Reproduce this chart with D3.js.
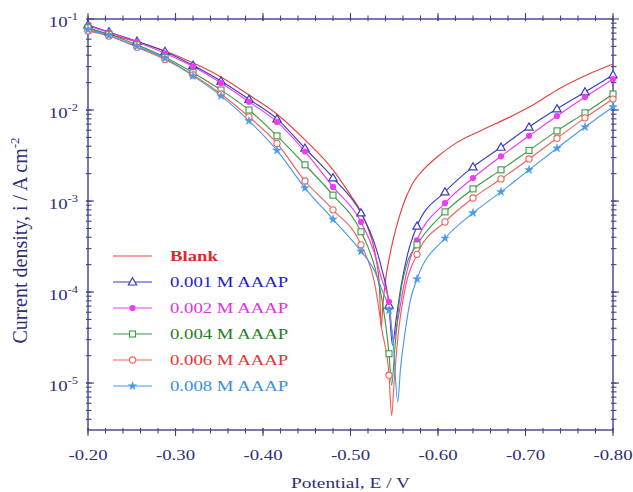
<!DOCTYPE html>
<html>
<head>
<meta charset="utf-8">
<script src="https://cdn.jsdelivr.net/npm/d3@7"></script>
<style>
  html, body { margin: 0; padding: 0; background: #fff; }
  svg text { font-family: "Liberation Serif", "Times New Roman", serif; }
</style>
</head>
<body>
<svg id="chart" width="633" height="492"></svg>
<script>
// potentials (V) where the markers sit
const markerPotentials = [-0.200, -0.224, -0.256, -0.288, -0.320, -0.352, -0.384, -0.416, -0.448, -0.480, -0.512,
  -0.544, -0.576, -0.608, -0.640, -0.672, -0.704, -0.736, -0.768, -0.800];

// [E (V), i (A cm-2)]
const blank = [
  [-0.200, 0.078], [-0.224, 0.068], [-0.256, 0.056], [-0.288, 0.0445], [-0.320, 0.0329], [-0.352, 0.0231],
  [-0.384, 0.0146], [-0.416, 0.0090], [-0.448, 0.0047], [-0.480, 0.0022], [-0.500, 0.00116], [-0.512, 7.6e-4],
  [-0.520, 5.0e-4], [-0.526, 3.3e-4], [-0.530, 2.1e-4], [-0.533, 1.19e-4], [-0.535, 4.1e-5], [-0.537, 7.2e-5],
  [-0.540, 1.35e-4], [-0.545, 2.55e-4], [-0.552, 5.0e-4], [-0.560, 9.0e-4], [-0.570, 1.5e-3], [-0.585, 2.3e-3],
  [-0.600, 3.1e-3], [-0.620, 4.3e-3], [-0.650, 6.0e-3], [-0.680, 8.2e-3], [-0.710, 0.0116], [-0.740, 0.0175],
  [-0.770, 0.0243], [-0.800, 0.032]
];

const aaap001 = [
  [-0.200, 0.086], [-0.224, 0.072], [-0.256, 0.057], [-0.288, 0.044], [-0.320, 0.031], [-0.352, 0.0208],
  [-0.384, 0.0131], [-0.416, 0.0080], [-0.448, 0.0038], [-0.480, 0.0018], [-0.512, 7.4e-4], [-0.528, 3.3e-4],
  [-0.536, 1.75e-4], [-0.544, 7.2e-5], [-0.548, 2.6e-5], [-0.552, 4.9e-5], [-0.558, 1.19e-4], [-0.565, 2.55e-4],
  [-0.576, 5.3e-4], [-0.608, 1.26e-3], [-0.640, 2.37e-3], [-0.672, 3.9e-3], [-0.704, 6.5e-3], [-0.736, 0.0103],
  [-0.768, 0.0158], [-0.800, 0.0243]
];

const aaap002 = [
  [-0.200, 0.084], [-0.224, 0.071], [-0.256, 0.056], [-0.288, 0.042], [-0.320, 0.030], [-0.352, 0.0198],
  [-0.384, 0.0123], [-0.416, 0.0074], [-0.448, 0.0035], [-0.480, 0.00143], [-0.512, 5.9e-4], [-0.528, 2.55e-4],
  [-0.536, 1.35e-4], [-0.544, 7.8e-5], [-0.549, 3.0e-5], [-0.554, 4.9e-5], [-0.560, 1.05e-4], [-0.567, 2.1e-4],
  [-0.576, 3.7e-4], [-0.608, 9.5e-4], [-0.640, 1.79e-3], [-0.672, 3.1e-3], [-0.704, 5.2e-3], [-0.736, 8.6e-3],
  [-0.768, 0.0139], [-0.800, 0.0219]
];

const aaap004 = [
  [-0.200, 0.080], [-0.224, 0.068], [-0.256, 0.052], [-0.288, 0.038], [-0.320, 0.0257], [-0.352, 0.0166],
  [-0.384, 0.0100], [-0.416, 0.0052], [-0.448, 0.0025], [-0.480, 0.00116], [-0.512, 4.6e-4], [-0.528, 1.84e-4],
  [-0.536, 8.2e-5], [-0.544, 2.1e-5], [-0.547, 9.5e-6], [-0.551, 2.6e-5], [-0.556, 8.2e-5], [-0.564, 1.98e-4],
  [-0.576, 3.3e-4], [-0.608, 7.6e-4], [-0.640, 1.36e-3], [-0.672, 2.2e-3], [-0.704, 3.6e-3], [-0.736, 5.9e-3],
  [-0.768, 9.3e-3], [-0.800, 0.0150]
];

const aaap006 = [
  [-0.200, 0.074], [-0.224, 0.065], [-0.256, 0.049], [-0.288, 0.036], [-0.320, 0.0243], [-0.352, 0.0150],
  [-0.384, 0.0084], [-0.416, 0.0043], [-0.448, 0.00166], [-0.480, 8.0e-4], [-0.512, 3.3e-4], [-0.528, 1.19e-4],
  [-0.536, 3.8e-5], [-0.544, 1.22e-5], [-0.547, 4.4e-6], [-0.550, 1.08e-5], [-0.555, 3.8e-5], [-0.562, 1.05e-4],
  [-0.576, 2.6e-4], [-0.608, 5.9e-4], [-0.640, 1.08e-3], [-0.672, 1.75e-3], [-0.704, 2.9e-3], [-0.736, 4.9e-3],
  [-0.768, 8.2e-3], [-0.800, 0.0132]
];

const aaap008 = [
  [-0.200, 0.076], [-0.224, 0.066], [-0.256, 0.050], [-0.288, 0.037], [-0.320, 0.0237], [-0.352, 0.0143],
  [-0.384, 0.0076], [-0.416, 0.0036], [-0.448, 0.00139], [-0.480, 6.3e-4], [-0.512, 2.8e-4], [-0.528, 1.66e-4],
  [-0.536, 1.05e-4], [-0.544, 6.3e-5], [-0.549, 2.6e-5], [-0.554, 6.2e-6], [-0.557, 1.39e-5], [-0.562, 3.4e-5],
  [-0.568, 7.8e-5], [-0.576, 1.39e-4], [-0.608, 3.9e-4], [-0.640, 7.4e-4], [-0.672, 1.26e-3], [-0.704, 2.2e-3],
  [-0.736, 3.8e-3], [-0.768, 6.5e-3], [-0.800, 0.0108]
];

const seriesNames = ['Blank', '0.001 M AAAP', '0.002 M AAAP', '0.004 M AAAP', '0.006 M AAAP', '0.008 M AAAP'];
const xTickLabels = ['-0.20', '-0.30', '-0.40', '-0.50', '-0.60', '-0.70', '-0.80'];
const yTickExponents = [-1, -2, -3, -4, -5];

const SERIES = [
  { name: seriesNames[0], points: blank,   line: '#e8413c', text: '#e02a2a', marker: null,       bold: true },
  { name: seriesNames[1], points: aaap001, line: '#3b3bc4', text: '#1c1cd0', marker: 'triangle', bold: false },
  { name: seriesNames[2], points: aaap002, line: '#ee3cee', text: '#e630e6', marker: 'dot',      bold: false },
  { name: seriesNames[3], points: aaap004, line: '#3c9a44', text: '#1f7f26', marker: 'square',   bold: false },
  { name: seriesNames[4], points: aaap006, line: '#f0605a', text: '#e43434', marker: 'circle',   bold: false },
  { name: seriesNames[5], points: aaap008, line: '#4a9ae6', text: '#3a8fe0', marker: 'star',     bold: false },
];

const AXIS_COLOR = '#41418e';
const LABEL_COLOR = '#2e2e78';
const STRETCH = 1.25; // the source picture is a bit wider than its fonts

const svg = d3.select('#chart');
const plot = { left: 88, top: 19, right: 613, bottom: 430 };

const x = d3.scaleLinear().domain([-0.2, -0.8]).range([plot.left, plot.right]);
const y = d3.scaleLog().domain([3.05e-6, 0.1]).range([plot.bottom, plot.top]);

// frame
svg.append('rect')
  .attr('x', plot.left).attr('y', plot.top)
  .attr('width', plot.right - plot.left).attr('height', plot.bottom - plot.top)
  .attr('fill', 'none').attr('stroke', AXIS_COLOR).attr('stroke-width', 1.4);

// ticks
const xMinor = d3.range(0, 31).map(k => -0.2 - k * 0.02);
const xMajor = d3.range(0, 7).map(k => -0.2 - k * 0.1);
const yMinor = [];
[-6, -5, -4, -3, -2].forEach(e => {
  for (let m = 1; m < 10; m++) {
    const v = m * Math.pow(10, e);
    if (v >= y.domain()[0] && v <= y.domain()[1]) yMinor.push(v);
  }
});
const yMajor = yTickExponents.map(e => Math.pow(10, e));

const ticks = svg.append('g').attr('stroke', AXIS_COLOR).attr('stroke-width', 1.1);
function tickLines(values, isMajor, horizontal) {
  const len = isMajor ? 6 : 3.5;
  values.forEach(v => {
    if (horizontal) {
      const px = x(v);
      ticks.append('line').attr('x1', px).attr('x2', px).attr('y1', plot.bottom - 2).attr('y2', plot.bottom + len);
      ticks.append('line').attr('x1', px).attr('x2', px).attr('y1', plot.top + 2).attr('y2', plot.top - len);
    } else {
      const py = y(v);
      ticks.append('line').attr('y1', py).attr('y2', py).attr('x1', plot.left - 2).attr('x2', plot.left + len);
      ticks.append('line').attr('y1', py).attr('y2', py).attr('x1', plot.right - 2).attr('x2', plot.right + len);
    }
  });
}
tickLines(xMinor, false, true);
tickLines(xMajor, true, true);
tickLines(yMinor, false, false);
tickLines(yMajor, true, false);

// x tick labels
svg.append('g').selectAll('text')
  .data(xMajor)
  .join('text')
  .attr('transform', d => `translate(${x(d)},${plot.bottom + 30}) scale(${STRETCH},1)`)
  .attr('text-anchor', 'middle')
  .attr('font-size', 15)
  .attr('fill', LABEL_COLOR)
  .text((d, i) => xTickLabels[i]);

// y tick labels: 10 with superscript exponent
svg.append('g').selectAll('text')
  .data(yTickExponents)
  .join('text')
  .attr('transform', d => `translate(${plot.left - 10},${y(Math.pow(10, d)) + 8}) scale(${STRETCH},1)`)
  .attr('text-anchor', 'end')
  .attr('font-size', 15)
  .attr('fill', LABEL_COLOR)
  .html(d => `10<tspan font-size="10" dy="-7">${d}</tspan>`);

// axis titles
svg.append('text')
  .attr('transform', `translate(${(plot.left + plot.right) / 2},${plot.bottom + 58}) scale(${STRETCH},1)`)
  .attr('text-anchor', 'middle')
  .attr('font-size', 15.5)
  .attr('fill', LABEL_COLOR)
  .text('Potential, E / V');

svg.append('text')
  .attr('transform', `translate(27,${(plot.top + plot.bottom) / 2 + 16}) rotate(-90)`)
  .attr('text-anchor', 'middle')
  .attr('font-size', 20)
  .attr('fill', LABEL_COLOR)
  .html('Current density, i / A cm<tspan font-size="13" dy="-8">-2</tspan>');

// curves
const line = d3.line()
  .x(d => x(d[0]))
  .y(d => y(d[1]))
  .curve(d3.curveMonotoneX);

const curves = svg.append('g');
SERIES.forEach(s => {
  curves.append('path')
    .datum(s.points)
    .attr('fill', 'none')
    .attr('stroke', s.line)
    .attr('stroke-width', 1.15)
    .attr('d', line);
});

function drawMarker(g, type, color, cx, cy) {
  if (type === 'triangle') {
    g.append('path').attr('d', d3.symbol(d3.symbolTriangle, 30)())
      .attr('transform', `translate(${cx},${cy + 0.6})`)
      .attr('fill', '#fff').attr('stroke', color).attr('stroke-width', 1.2);
  } else if (type === 'dot') {
    g.append('circle').attr('cx', cx).attr('cy', cy).attr('r', 3.1).attr('fill', color);
  } else if (type === 'square') {
    g.append('rect').attr('x', cx - 3).attr('y', cy - 3).attr('width', 6).attr('height', 6)
      .attr('fill', '#fff').attr('stroke', color).attr('stroke-width', 1.1);
  } else if (type === 'circle') {
    g.append('circle').attr('cx', cx).attr('cy', cy).attr('r', 3.1)
      .attr('fill', '#fff').attr('stroke', color).attr('stroke-width', 1.1);
  } else if (type === 'star') {
    g.append('path').attr('d', d3.symbol(d3.symbolStar, 22)())
      .attr('transform', `translate(${cx},${cy})`)
      .attr('fill', color).attr('stroke', color).attr('stroke-width', 0.5);
  }
}

const markers = svg.append('g');
SERIES.filter(s => s.marker).forEach(s => {
  s.points
    .filter(p => markerPotentials.some(m => Math.abs(m - p[0]) < 1e-6))
    .forEach(p => drawMarker(markers, s.marker, s.line, x(p[0]), y(p[1])));
});

// legend
const legend = svg.append('g');
SERIES.forEach((s, i) => {
  const ly = 256 + i * 26;
  legend.append('line')
    .attr('x1', 113).attr('x2', 152).attr('y1', ly).attr('y2', ly)
    .attr('stroke', s.line).attr('stroke-width', 1.2);
  if (s.marker) drawMarker(legend, s.marker, s.line, 132.5, ly);
  legend.append('text')
    .attr('transform', `translate(170,${ly + 5}) scale(${STRETCH},1)`)
    .attr('font-size', 15)
    .attr('font-weight', s.bold ? 'bold' : 'normal')
    .attr('fill', s.text)
    .text(s.name);
});
</script>
</body>
</html>
